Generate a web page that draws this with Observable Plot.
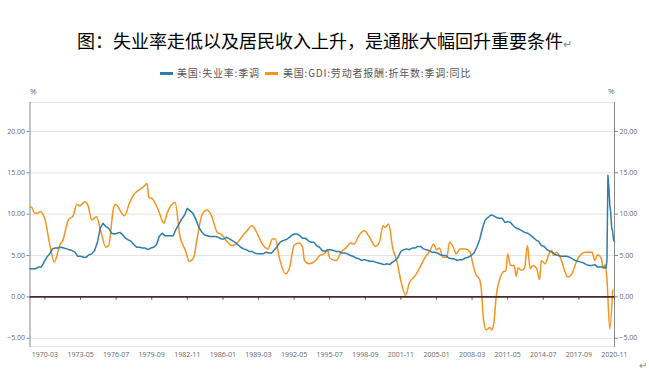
<!DOCTYPE html>
<html>
<head>
<meta charset="utf-8">
<script src="https://cdn.jsdelivr.net/npm/d3@7"></script>
<script src="https://cdn.jsdelivr.net/npm/@observablehq/plot@0.6"></script>
<style>
  html, body { margin: 0; padding: 0; background: #fff; }
  #wrap { position: relative; width: 649px; height: 377px; overflow: hidden; font-family: "Noto Sans CJK SC", sans-serif; }
  #title { position: absolute; left: 0; width: 649px; top: 28px; text-align: center; font-size: 18px; line-height: 24px; color: #000; white-space: nowrap; }
  #title .pm { font-size: 11px; color: #888; }
  .sw { position: absolute; top: 72px; width: 13px; height: 3px; }
  .lt { position: absolute; top: 66px; font-size: 10px; line-height: 14px; color: #555; white-space: nowrap; letter-spacing: 0.8px; }
  #chart { position: absolute; left: 0; top: 80px; }
  #pm2 { position: absolute; left: 639px; top: 357px; font-size: 10px; color: #888; }
</style>
</head>
<body>
<div id="wrap">
  <div id="title">图：失业率走低以及居民收入上升，是通胀大幅回升重要条件<span class="pm">↵</span></div>
  <div class="sw" style="left:160px;background:#2e7dab"></div>
  <div class="lt" id="lt1" style="left:177px"></div>
  <div class="sw" style="left:265px;background:#f7931e"></div>
  <div class="lt" id="lt2" style="left:283px"></div>
  <div id="chart"></div>
  <div id="pm2">↵</div>
</div>
<script>
const seriesNames = ["美国:失业率:季调", "美国:GDI:劳动者报酬:折年数:季调:同比"];
const seriesColors = ["#2e7dab", "#f7931e"];
const yTicks = [-5, 0, 5, 10, 15, 20];
const xTickLabels = ["1970-03","1973-05","1976-07","1979-09","1982-11","1986-01","1989-03","1992-05","1995-07","1998-09","2001-11","2005-01","2008-03","2011-05","2014-07","2017-09","2020-11"];
const xRange = ["1968-11", "2020-11"];

const unemployment = [
["1968-11",3.4],
["1969-02",3.4],["1969-05",3.4],["1969-08",3.6],["1969-11",3.6],
["1970-02",4.2],["1970-05",4.8],["1970-08",5.2],["1970-11",5.8],
["1971-02",5.9],["1971-05",5.9],["1971-08",6.0],["1971-11",5.9],
["1972-02",5.8],["1972-05",5.7],["1972-08",5.6],["1972-11",5.4],
["1973-02",4.9],["1973-05",4.9],["1973-08",4.8],["1973-11",4.8],
["1974-02",5.1],["1974-05",5.2],["1974-08",5.6],["1974-11",6.6],
["1975-02",8.3],["1975-05",8.9],["1975-08",8.5],["1975-11",8.3],
["1976-02",7.7],["1976-05",7.6],["1976-08",7.7],["1976-11",7.8],
["1977-02",7.5],["1977-05",7.1],["1977-08",6.9],["1977-11",6.7],
["1978-02",6.3],["1978-05",6.0],["1978-08",6.0],["1978-11",5.9],
["1979-02",5.9],["1979-05",5.7],["1979-08",5.9],["1979-11",6.0],
["1980-02",6.3],["1980-05",7.3],["1980-08",7.7],["1980-11",7.4],
["1981-02",7.4],["1981-05",7.4],["1981-08",7.4],["1981-11",8.2],
["1982-02",8.8],["1982-05",9.4],["1982-08",9.9],["1982-11",10.7],
["1983-02",10.4],["1983-05",10.1],["1983-08",9.4],["1983-11",8.5],
["1984-02",7.9],["1984-05",7.5],["1984-08",7.4],["1984-11",7.3],
["1985-02",7.3],["1985-05",7.3],["1985-08",7.2],["1985-11",7.0],
["1986-02",7.0],["1986-05",7.2],["1986-08",7.0],["1986-11",6.8],
["1987-02",6.6],["1987-05",6.3],["1987-08",6.0],["1987-11",5.8],
["1988-02",5.7],["1988-05",5.5],["1988-08",5.5],["1988-11",5.3],
["1989-02",5.2],["1989-05",5.2],["1989-08",5.2],["1989-11",5.4],
["1990-02",5.3],["1990-05",5.3],["1990-08",5.7],["1990-11",6.1],
["1991-02",6.6],["1991-05",6.8],["1991-08",6.9],["1991-11",7.1],
["1992-02",7.4],["1992-05",7.6],["1992-08",7.6],["1992-11",7.4],
["1993-02",7.1],["1993-05",7.1],["1993-08",6.8],["1993-11",6.6],
["1994-02",6.6],["1994-05",6.2],["1994-08",6.0],["1994-11",5.6],
["1995-02",5.5],["1995-05",5.7],["1995-08",5.7],["1995-11",5.6],
["1996-02",5.5],["1996-05",5.5],["1996-08",5.3],["1996-11",5.3],
["1997-02",5.2],["1997-05",5.0],["1997-08",4.9],["1997-11",4.7],
["1998-02",4.6],["1998-05",4.4],["1998-08",4.5],["1998-11",4.4],
["1999-02",4.3],["1999-05",4.3],["1999-08",4.2],["1999-11",4.1],
["2000-02",4.0],["2000-05",3.9],["2000-08",4.0],["2000-11",3.9],
["2001-02",4.2],["2001-05",4.4],["2001-08",4.8],["2001-11",5.5],
["2002-02",5.7],["2002-05",5.8],["2002-08",5.7],["2002-11",5.9],
["2003-02",5.9],["2003-05",6.1],["2003-08",6.1],["2003-11",5.8],
["2004-02",5.7],["2004-05",5.6],["2004-08",5.4],["2004-11",5.4],
["2005-02",5.3],["2005-05",5.1],["2005-08",5.0],["2005-11",5.0],
["2006-02",4.7],["2006-05",4.6],["2006-08",4.6],["2006-11",4.4],
["2007-02",4.5],["2007-05",4.5],["2007-08",4.7],["2007-11",4.8],
["2008-02",5.0],["2008-05",5.3],["2008-08",6.0],["2008-11",6.9],
["2009-02",8.3],["2009-05",9.3],["2009-08",9.6],["2009-11",9.9],
["2010-02",9.8],["2010-05",9.6],["2010-08",9.5],["2010-11",9.5],
["2011-02",9.0],["2011-05",9.1],["2011-08",9.0],["2011-11",8.6],
["2012-02",8.3],["2012-05",8.2],["2012-08",8.0],["2012-11",7.8],
["2013-02",7.7],["2013-05",7.5],["2013-08",7.2],["2013-11",6.9],
["2014-02",6.7],["2014-05",6.2],["2014-08",6.1],["2014-11",5.7],
["2015-02",5.5],["2015-05",5.4],["2015-08",5.1],["2015-11",5.0],
["2016-02",4.9],["2016-05",4.9],["2016-08",4.9],["2016-11",4.8],
["2017-02",4.6],["2017-05",4.4],["2017-08",4.3],["2017-11",4.2],
["2018-02",4.1],["2018-05",3.9],["2018-08",3.8],["2018-11",3.8],
["2019-02",3.9],["2019-05",3.6],["2019-08",3.6],["2019-11",3.6],
["2020-01",3.5],["2020-02",3.5],["2020-03",4.4],["2020-04",14.7],["2020-05",13.3],["2020-06",11.1],
["2020-07",10.2],["2020-08",8.4],["2020-09",7.9],["2020-10",6.9],["2020-11",6.7]
];

const compensation = [
["1968-11",10.9],["1969-01",10.8],["1969-04",10.1],["1969-07",10.1],["1969-10",10.3],
["1970-03",9.4],["1970-08",6.4],["1971-01",4.2],["1971-07",6.3],["1971-10",6.8],
["1972-04",9.3],["1972-09",9.8],["1973-01",11.2],["1973-04",11.0],["1973-10",11.5],
["1974-01",11.0],["1974-05",9.3],["1974-10",9.7],["1975-02",8.2],["1975-08",6.0],
["1975-11",6.2],["1976-04",10.6],["1976-06",11.2],["1977-04",9.8],["1977-09",11.3],
["1978-02",12.4],["1978-07",12.9],["1978-12",13.3],["1979-04",13.7],["1979-06",12.0],
["1979-09",11.9],["1980-04",10.5],["1980-10",8.9],["1981-01",10.0],["1981-10",11.4],
["1982-03",7.4],["1982-09",5.6],["1983-01",4.3],["1983-06",4.8],["1983-09",6.8],
["1984-03",10.0],["1984-08",10.5],["1984-12",10.0],["1985-07",7.8],["1985-12",7.5],
["1986-06",6.6],["1986-11",6.2],["1987-05",6.6],["1987-10",7.4],["1988-02",7.9],
["1988-08",8.6],["1989-01",7.8],["1989-07",6.4],["1990-01",5.8],["1990-06",7.0],
["1990-09",7.0],["1991-01",4.8],["1991-08",2.8],["1991-12",3.5],["1992-05",6.2],
["1992-10",6.5],["1993-02",6.0],["1993-04",4.4],["1993-09",4.0],["1994-04",4.4],
["1994-08",5.0],["1995-01",5.2],["1995-05",5.6],["1995-07",4.7],["1996-02",4.4],
["1996-07",5.4],["1997-01",6.0],["1997-05",6.5],["1997-09",6.4],["1998-02",7.4],
["1998-08",8.0],["1999-01",7.3],["1999-08",6.1],["1999-12",6.6],["2000-04",8.6],
["2000-06",8.4],["2000-10",8.8],["2001-02",6.0],["2001-07",4.2],["2001-11",1.9],
["2002-04",0.2],["2002-08",1.7],["2003-02",2.5],["2003-07",3.5],["2004-01",4.8],
["2004-06",5.6],["2004-10",6.4],["2005-01",5.7],["2005-04",5.9],["2005-08",4.8],
["2005-12",4.8],["2006-03",6.6],["2006-07",6.0],["2006-10",5.2],["2007-02",5.8],
["2007-08",5.8],["2008-01",5.4],["2008-03",4.4],["2008-07",2.7],["2008-11",2.1],
["2009-01",0.7],["2009-03",-2.5],["2009-06",-4.0],["2009-10",-3.7],["2009-12",-4.0],
["2010-02",-3.3],["2010-05",0.3],["2010-09",2.3],["2011-01",3.1],["2011-03",3.1],
["2011-05",5.2],["2011-08",3.8],["2011-12",3.8],["2012-02",2.5],["2012-04",3.5],
["2012-08",3.2],["2012-11",3.5],["2013-02",6.2],["2013-05",3.4],["2013-08",3.8],
["2013-12",3.4],["2014-03",2.1],["2014-05",4.4],["2014-09",4.0],["2015-01",5.2],
["2015-04",5.6],["2015-06",5.0],["2015-09",5.4],["2016-01",4.8],["2016-06",3.1],
["2016-09",2.4],["2017-01",2.7],["2017-07",4.4],["2017-12",5.2],["2018-04",5.4],
["2018-11",5.4],["2019-02",4.4],["2019-05",5.1],["2019-09",4.6],["2019-11",3.4],
["2020-01",3.9],["2020-03",2.1],["2020-06",-3.9],["2020-09",0.8]
];

document.getElementById("lt1").textContent = seriesNames[0];
document.getElementById("lt2").textContent = seriesNames[1];

const parse = d3.utcParse("%Y-%m");
const fmt = d3.utcFormat("%Y-%m");
const toRows = arr => arr.map(([d, v]) => ({date: parse(d), value: v}));
const unempRows = toRows(unemployment);
const compRows = toRows(compensation);
const xTicks = xTickLabels.map(parse);

const chart = Plot.plot({
  width: 649,
  height: 297,
  marginLeft: 29.5,
  marginRight: 35,
  marginTop: 22,
  marginBottom: 31,
  style: {fontFamily: "'Open Sans', sans-serif", fontSize: "7px", color: "#666", background: "transparent", overflow: "visible"},
  x: {type: "utc", domain: xRange.map(parse)},
  y: {domain: [-6, 23.5]},
  marks: [
    Plot.gridY(yTicks, {stroke: "#e4e4e4", strokeOpacity: 1}),
    Plot.frame({anchor: "top", stroke: "#e6e6e6"}),
    Plot.frame({anchor: "bottom", stroke: "#e6e6e6"}),
    Plot.axisY(yTicks, {anchor: "left", tickFormat: d3.format(".2f"), tickSize: 3, tickPadding: 2, label: null, stroke: "#888"}),
    Plot.axisY(yTicks, {anchor: "right", tickFormat: d3.format(".2f"), tickSize: 3, tickPadding: 2, label: null, stroke: "#888"}),
    Plot.frame({anchor: "left", stroke: "#888"}),
    Plot.frame({anchor: "right", stroke: "#888"}),
    Plot.axisX(xTicks, {anchor: "bottom", tickSize: 0, tickPadding: 6, tickFormat: fmt, label: null}),
    Plot.ruleX(xTicks, {x: d => d, y1: 0, y2: -0.4, stroke: "#555"}),
    Plot.lineY(compRows, {x: "date", y: "value", stroke: seriesColors[1], strokeWidth: 1.5, curve: "monotone-x"}),
    Plot.lineY(unempRows, {x: "date", y: "value", stroke: seriesColors[0], strokeWidth: 1.5}),
    Plot.ruleY([0], {stroke: "#4a2828", strokeWidth: 1.6}),
    Plot.text(["%"], {frameAnchor: "top-left", dy: -14, fill: "#666", fontSize: 8}),
    Plot.text(["%"], {frameAnchor: "top-right", dy: -14, fill: "#666", fontSize: 8})
  ]
});
document.getElementById("chart").appendChild(chart);
</script>
</body>
</html>
